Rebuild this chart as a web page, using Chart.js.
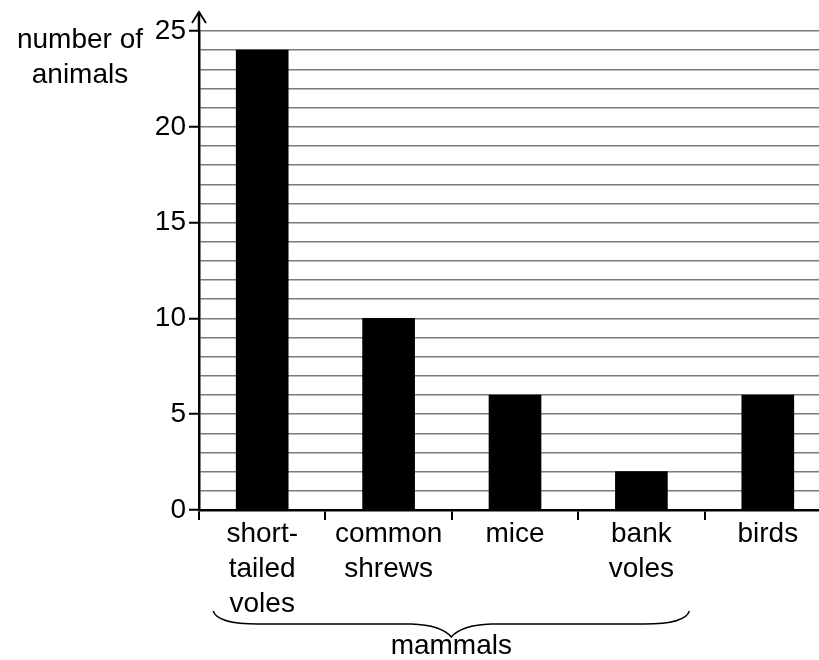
<!DOCTYPE html>
<html>
<head>
<meta charset="utf-8">
<script src="https://cdn.jsdelivr.net/npm/chart.js@4/dist/chart.umd.min.js"></script>
<style>
  html, body { margin: 0; padding: 0; background: #fff; overflow: hidden; }
  canvas { display: block; }
</style>
</head>
<body>
<canvas id="animalChart" width="831" height="660"></canvas>
<script>
const categories = [["short-", "tailed", "voles"], ["common", "shrews"], ["mice"], ["bank", "voles"], ["birds"]];
const animalCounts = [24, 10, 6, 2, 6];
const yTickLabels = [0, 5, 10, 15, 20, 25];
const yAxisTitle = ["number of", "animals"];
const groupLabel = "mammals";
const groupRange = [0, 3]; // first and last category under the brace

const FONT = "'Liberation Sans', Arial, Helvetica, sans-serif";
Chart.defaults.font.family = FONT;
Chart.defaults.color = "#000";

// y axis arrow, axis title, brace + group label
const extras = {
  id: "extras",
  afterDraw(chart) {
    const { ctx, chartArea, scales } = chart;
    const ax = chartArea.left;
    ctx.save();
    ctx.strokeStyle = "#000";
    ctx.lineWidth = 2.5;
    ctx.beginPath();
    ctx.moveTo(ax, chartArea.top);
    ctx.lineTo(ax, chartArea.top - 19);
    ctx.stroke();
    ctx.lineWidth = 1.8;
    ctx.beginPath();
    ctx.moveTo(ax - 7, chartArea.top - 8);
    ctx.lineTo(ax, chartArea.top - 19);
    ctx.lineTo(ax + 7, chartArea.top - 8);
    ctx.stroke();

    ctx.font = "28px " + FONT;
    ctx.fillStyle = "#000";
    ctx.textAlign = "center";
    ctx.textBaseline = "alphabetic";
    ctx.fillText(yAxisTitle[0], 80, 48);
    ctx.fillText(yAxisTitle[1], 80, 83);

    // brace under the mammal categories
    const x = scales.x;
    const left = x.getPixelForValue(groupRange[0]) - 49;
    const right = x.getPixelForValue(groupRange[1]) + 48;
    const mid = (left + right) / 2;
    const by = chartArea.bottom + 114;
    ctx.lineWidth = 1.5;
    ctx.beginPath();
    ctx.moveTo(left, by - 13);
    ctx.quadraticCurveTo(left + 4, by, left + 45, by);
    ctx.lineTo(mid - 40, by);
    ctx.quadraticCurveTo(mid - 10, by + 1, mid, by + 13);
    ctx.quadraticCurveTo(mid + 10, by + 1, mid + 40, by);
    ctx.lineTo(right - 45, by);
    ctx.quadraticCurveTo(right - 4, by, right, by - 13);
    ctx.stroke();

    ctx.fillText(groupLabel, mid, chartArea.bottom + 144);
    ctx.restore();
  }
};

new Chart(document.getElementById("animalChart"), {
  type: "bar",
  data: {
    labels: categories,
    datasets: [{
      data: animalCounts,
      backgroundColor: "#000",
      borderWidth: 0,
      barThickness: 52
    }]
  },
  options: {
    responsive: false,
    animation: false,
    devicePixelRatio: 1,
    layout: { padding: { top: 31, left: 0, right: 0, bottom: 0 } },
    plugins: {
      legend: { display: false },
      tooltip: { enabled: false }
    },
    scales: {
      x: {
        afterFit: (scale) => { scale.height = 150; },
        grid: {
          drawOnChartArea: false,
          drawTicks: true,
          tickLength: 10,
          color: "#000",
          lineWidth: 2
        },
        border: { display: true, color: "#000", width: 2.5 },
        ticks: {
          padding: -3.5,
          maxRotation: 0,
          autoSkip: false,
          font: { size: 28, lineHeight: 1.25 }
        }
      },
      y: {
        min: 0,
        max: 25,
        afterFit: (scale) => { scale.width = 199; },
        grid: {
          color: (c) => c.tick && c.tick.value === 0 ? "rgba(0,0,0,0)" : "#7a7a7a",
          lineWidth: 1.5,
          tickLength: 10,
          tickColor: (c) => c.tick && yTickLabels.includes(c.tick.value) ? "#000" : "rgba(0,0,0,0)",
          tickWidth: 2
        },
        border: { display: true, color: "#000", width: 2.5 },
        ticks: {
          stepSize: 1,
          autoSkip: false,
          padding: 3,
          font: { size: 28 },
          callback: (v) => yTickLabels.includes(v) ? v : ""
        }
      }
    }
  },
  plugins: [extras]
});
</script>
</body>
</html>
